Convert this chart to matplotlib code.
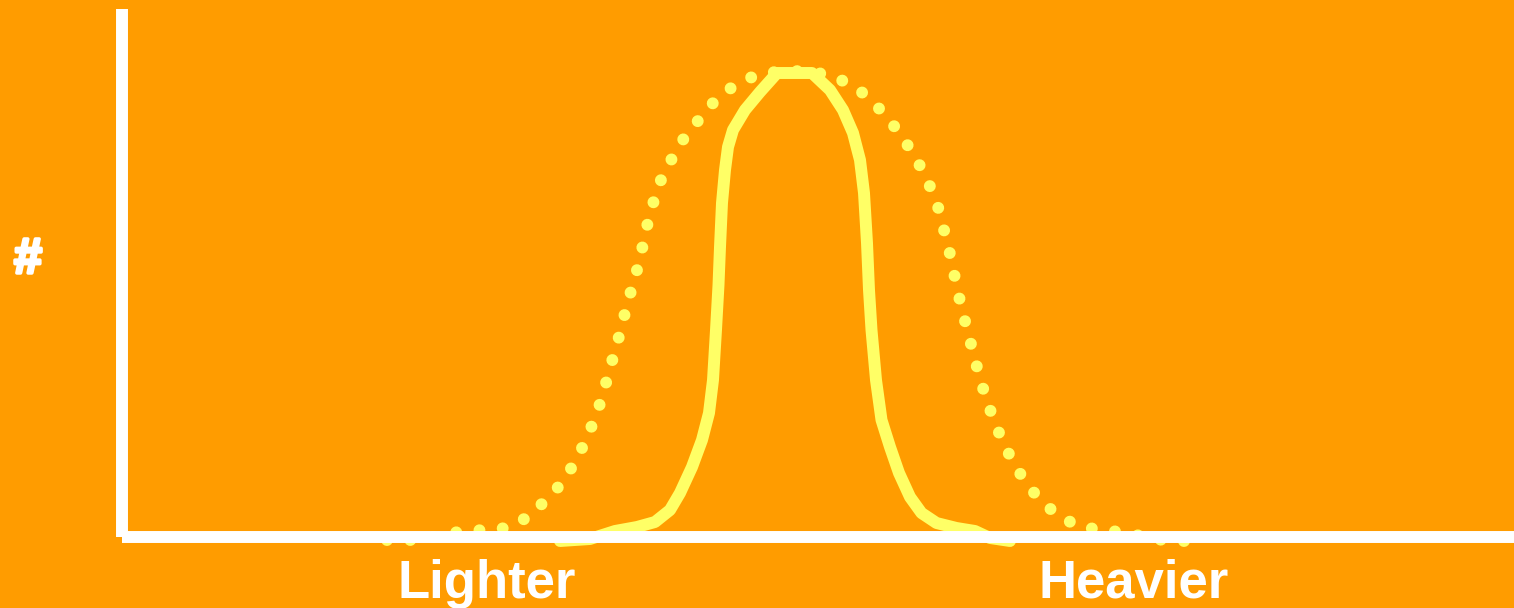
import matplotlib.pyplot as plt
import matplotlib.patheffects as pe

# points (x = weight position, y = count)
wide_x = [265, 288, 311, 336, 361, 385, 406, 424, 440, 453, 464, 473, 481, 487,
          494, 500, 506, 513, 519, 524, 530, 537, 548, 560, 575, 591, 609, 630,
          653, 672, 692, 713, 735, 753, 769, 783, 796, 807, 816, 822, 828, 833,
          838, 844, 850, 856, 863, 871, 880, 891, 904, 919, 938, 959, 981, 1006,
          1031, 1055, 1080]
wide_y = [-3, -3, 0, 5, 7, 9, 20, 37, 54, 75, 97, 119, 142, 166,
          189, 212, 236, 259, 283, 307, 330, 353, 375, 396, 415, 434, 449, 460,
          465, 466, 465, 460, 449, 433, 415, 396, 375, 353, 330, 307, 283, 259,
          236, 212, 189, 166, 142, 119, 97, 75, 54, 36, 20, 10, 7, 4, -2,
          -4, -4]

narrow_x = [438, 468, 493, 515, 533, 548, 558, 570, 580, 587, 591, 594, 596.5,
            598, 600, 603, 606, 611, 623, 638, 655, 690, 708, 721, 731, 738,
            742, 745, 747, 749.5, 754, 759.5, 768, 777, 788, 799.5, 814.5,
            834.5, 853, 868, 888]
narrow_y = [-4, -2, 6, 10, 15, 27, 44, 70, 97, 124, 157, 207, 252,
            290, 334, 367, 390, 407, 427, 445, 464, 464, 447, 427, 404, 377,
            344, 294, 247, 207, 157, 117, 90, 64, 40, 24, 14,
            9, 6, -1, -4]

labels = ["Lighter", "Heavier"]
label_x = [365, 1012]
y_label = "#"

bg = "#FF9C00"
yellow = "#FFFF66"

fig = plt.figure(figsize=(15.14, 6.08), dpi=100, facecolor=bg)
ax = fig.add_axes([122 / 1514, 71 / 608, 1392 / 1514, 528 / 608])
ax.set_facecolor(bg)
ax.set_xlim(0, 1392)
ax.set_ylim(0, 528)

ax.plot(wide_x, wide_y, color=yellow, lw=8.6, linestyle=(0, (0.001, 1.95)),
        dash_capstyle="round", clip_on=False, zorder=1)
ax.plot(narrow_x, narrow_y, color=yellow, lw=8.6, solid_joinstyle="round",
        solid_capstyle="round", clip_on=False, zorder=2)

for side in ["top", "right"]:
    ax.spines[side].set_visible(False)
for side in ["left", "bottom"]:
    ax.spines[side].set_color("white")
    ax.spines[side].set_linewidth(8.6)
    ax.spines[side].set_capstyle("butt")
    ax.spines[side].set_zorder(5)
ax.set_xticks([])
ax.set_yticks([])

for lab, x in zip(labels, label_x):
    ax.text(x, -61, lab, color="white", fontsize=38, fontweight="bold",
            family="Liberation Sans", ha="center", va="baseline", clip_on=False)
ax.text(-94, 277, y_label, color="white", fontsize=36, fontweight="bold",
        family="Liberation Sans", ha="center", va="center", clip_on=False,
        path_effects=[pe.withStroke(linewidth=2.5, foreground="white")])

fig.savefig("out.png", dpi=100, facecolor=bg)
